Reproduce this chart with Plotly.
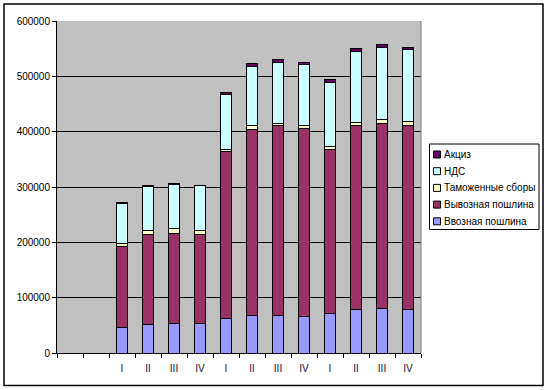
import plotly.graph_objects as go

# Categories: two empty slots, then three years of quarters
tick_labels = ["", "", "I", "II", "III", "IV", "I", "II", "III", "IV", "I", "II", "III", "IV"]
positions = list(range(2, 14))

vvoz = [46400, 51800, 53700, 53700, 62700, 66900, 68100, 66300, 71700, 79000, 80800, 79000]
vyvoz = [145700, 162700, 162600, 160800, 301100, 337300, 342700, 339100, 296400, 331800, 333600, 331800]
tamozh = [6100, 7200, 9000, 7200, 3600, 7300, 4300, 6100, 4800, 4900, 6700, 6700]
nds = [72300, 80100, 79500, 81300, 99400, 106600, 109600, 110200, 115600, 128900, 130700, 131300]
akciz = [1000, 1800, 1800, 500, 4300, 5400, 6000, 4200, 6100, 6000, 6600, 4200]

series_names = ["Ввозная пошлина", "Вывозная пошлина", "Таможенные сборы", "НДС", "Акциз"]
series_values = [vvoz, vyvoz, tamozh, nds, akciz]
series_colors = ["#9999FF", "#993366", "#FFFFCC", "#CCFFFF", "#660066"]

fig = go.Figure()
for name, vals, col in zip(series_names, series_values, series_colors):
    fig.add_trace(go.Bar(
        x=positions, y=vals, name=name, width=0.45,
        marker=dict(color=col, line=dict(color="black", width=1)),
        showlegend=False,
    ))

W, H = 548, 390
L, R, T, B = 57, 127, 21, 37
pw, ph = W - L - R, H - T - B

def px_x(p):
    return (p - L) / pw

def px_y(p):
    return (H - B - p) / ph

shapes = [
    # gray right border of plot area
    dict(type="line", xref="paper", yref="paper", x0=1, x1=1, y0=0, y1=1,
         line=dict(color="#808080", width=1)),
    # outer chart frame
    dict(type="rect", xref="paper", yref="paper",
         x0=px_x(4), x1=px_x(543), y0=px_y(385.5), y1=px_y(4),
         line=dict(color="black", width=1.5), layer="above"),
    # legend box
    dict(type="rect", xref="paper", yref="paper",
         x0=px_x(429.5), x1=px_x(539), y0=px_y(229.5), y1=px_y(144),
         line=dict(color="black", width=1), fillcolor="white", layer="above"),
]
annotations = []

# manual legend (reversed order: Акциз on top)
row_y = [154.5, 171.2, 187.9, 204.6, 221.3]
for i, idx in enumerate(reversed(range(len(series_names)))):
    cy = row_y[i]
    shapes.append(dict(
        type="rect", xref="paper", yref="paper",
        x0=px_x(433.5), x1=px_x(440.5), y0=px_y(cy + 3.5), y1=px_y(cy - 3.5),
        line=dict(color="black", width=1), fillcolor=series_colors[idx], layer="above",
    ))
    annotations.append(dict(
        xref="paper", yref="paper", x=px_x(442), y=px_y(cy),
        xanchor="left", yanchor="middle", showarrow=False,
        text=series_names[idx],
        font=dict(size=10, color="black",
                  family="Liberation Sans, Arial, sans-serif"),
    ))

fig.update_layout(
    width=W, height=H,
    margin=dict(l=L, r=R, t=T, b=B, autoexpand=False),
    barmode="stack",
    paper_bgcolor="white",
    plot_bgcolor="#C0C0C0",
    font=dict(family="Liberation Sans, Arial, sans-serif", size=10, color="black"),
    showlegend=False,
    xaxis=dict(
        range=[-0.5, 13.5],
        tickmode="array",
        tickvals=list(range(14)),
        ticktext=tick_labels,
        ticks="",
        ticklabelstandoff=6,
        showgrid=False,
        showline=True, linecolor="black", linewidth=1,
        tickfont=dict(color="#101040", size=10),
        minor=dict(tickmode="array", tickvals=[i - 0.5 for i in range(15)],
                   ticks="outside", ticklen=4, tickcolor="black", showgrid=False),
        zeroline=False,
        fixedrange=True,
    ),
    yaxis=dict(
        range=[0, 600000],
        tickmode="array",
        tickvals=[0, 100000, 200000, 300000, 400000, 500000, 600000],
        ticktext=["0", "100000", "200000", "300000", "400000", "500000", "600000"],
        showgrid=True, gridcolor="black", gridwidth=1,
        showline=True, linecolor="black", linewidth=1,
        ticks="outside", ticklen=4, tickcolor="black",
        zeroline=False,
        fixedrange=True,
    ),
    shapes=shapes,
    annotations=annotations,
)

fig.write_html(
    "out.html",
    config={"displayModeBar": False, "staticPlot": True},
    post_script="document.body.style.margin='0';document.body.style.overflow='hidden';",
)
